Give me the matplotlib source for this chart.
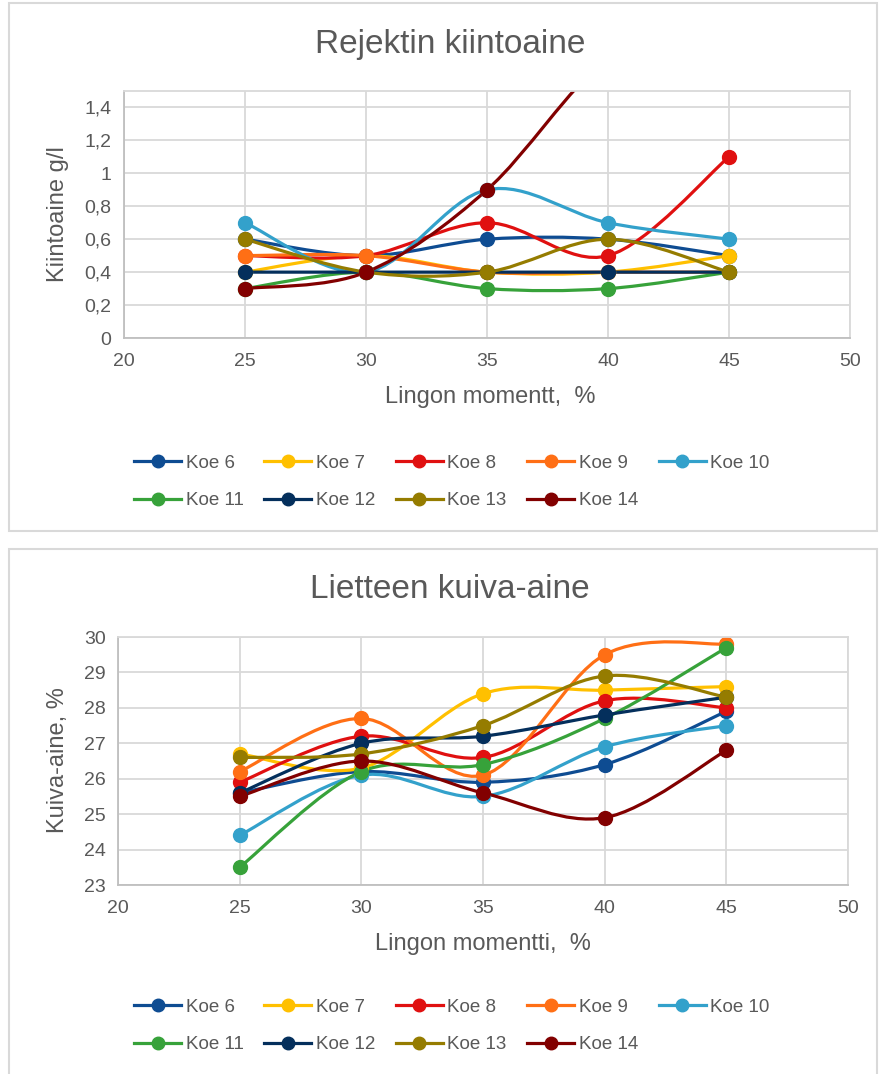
import matplotlib
matplotlib.use('Agg')
import matplotlib.pyplot as plt
from matplotlib.path import Path
from matplotlib.patches import PathPatch, Rectangle
from matplotlib.lines import Line2D
from matplotlib.ticker import FuncFormatter

plt.rcParams['font.family'] = ['Liberation Sans', 'DejaVu Sans']

# momentti, %
x = [25, 30, 35, 40, 45]
labels = ['Koe 6', 'Koe 7', 'Koe 8', 'Koe 9', 'Koe 10',
          'Koe 11', 'Koe 12', 'Koe 13', 'Koe 14']
colors = ['#0E4C92', '#FFC000', '#E01010', '#FF6F15', '#33A1CB',
          '#37A23A', '#042F5C', '#957C00', '#820000']

# Rejektin kiintoaine, g/l
kiinto = [
    [0.6, 0.5, 0.6, 0.6, 0.5],
    [0.4, 0.5, 0.4, 0.4, 0.5],
    [0.5, 0.5, 0.7, 0.5, 1.1],
    [0.5, 0.5, 0.4, 0.4, 0.4],
    [0.7, 0.4, 0.9, 0.7, 0.6],
    [0.3, 0.4, 0.3, 0.3, 0.4],
    [0.4, 0.4, 0.4, 0.4, 0.4],
    [0.6, 0.4, 0.4, 0.6, 0.4],
    [0.3, 0.4, 0.9, 1.7, 2.0],
]

# Lietteen kuiva-aine, %
kuiva = [
    [25.6, 26.2, 25.9, 26.4, 27.9],
    [26.7, 26.3, 28.4, 28.5, 28.6],
    [25.9, 27.2, 26.6, 28.2, 28.0],
    [26.2, 27.7, 26.1, 29.5, 29.8],
    [24.4, 26.1, 25.5, 26.9, 27.5],
    [23.5, 26.2, 26.4, 27.7, 29.7],
    [25.6, 27.0, 27.2, 27.8, 28.3],
    [26.6, 26.7, 27.5, 28.9, 28.3],
    [25.5, 26.5, 25.6, 24.9, 26.8],
]

TXT = '#595959'
GRID = '#D9D9D9'
W, H = 880.0, 1074.0


def smooth_path(xs, ys):
    # Excel-tyylinen pehmennetty viiva (Bezier)
    n = len(xs)
    pts = list(zip(xs, ys))
    verts = [pts[0]]
    codes = [Path.MOVETO]
    for i in range(n - 1):
        p0 = pts[i - 1] if i > 0 else pts[i]
        p1 = pts[i]
        p2 = pts[i + 1]
        p3 = pts[i + 2] if i + 2 < n else pts[i + 1]
        c1 = (p1[0] + (p2[0] - p0[0]) / 6, p1[1] + (p2[1] - p0[1]) / 6)
        c2 = (p2[0] - (p3[0] - p1[0]) / 6, p2[1] - (p3[1] - p1[1]) / 6)
        verts += [c1, c2, p2]
        codes += [Path.CURVE4] * 3
    return Path(verts, codes)


def comma(v, pos):
    s = ('%.1f' % v).rstrip('0').rstrip('.')
    return s.replace('.', ',')


def draw(ax, data, ylim, yticks):
    for vals, c in zip(data, colors):
        ax.add_patch(PathPatch(smooth_path(x, vals), fill=False, ec=c,
                               lw=2.3, capstyle='round', joinstyle='round'))
        ax.plot(x, vals, 'o', color=c, ms=10, ls='none')
    ax.set_xlim(20, 50)
    ax.set_ylim(*ylim)
    ax.set_xticks([20, 25, 30, 35, 40, 45, 50])
    ax.set_yticks(yticks)
    ax.yaxis.set_major_formatter(FuncFormatter(comma))
    ax.grid(True, color=GRID, lw=1.3)
    ax.set_axisbelow(True)
    for s in ['top', 'right']:
        ax.spines[s].set_color(GRID)
        ax.spines[s].set_linewidth(1.3)
    for s in ['left', 'bottom']:
        ax.spines[s].set_color('#BFBFBF')
        ax.spines[s].set_linewidth(1.3)
    ax.tick_params(length=0, labelsize=14, labelcolor=TXT)
    ax.tick_params(axis='x', pad=11)
    ax.tick_params(axis='y', pad=9)


fig = plt.figure(figsize=(8.8, 10.74), dpi=100)

fig.patches.append(Rectangle((9 / W, 1 - 531 / H), 868 / W, 528 / H,
                             transform=fig.transFigure, fill=False,
                             ec=GRID, lw=1.5))
fig.patches.append(Rectangle((9 / W, 1 - 1080 / H), 868 / W, 531 / H,
                             transform=fig.transFigure, fill=False,
                             ec=GRID, lw=1.5))

ax1 = fig.add_axes([124 / W, 1 - 338 / H, 726 / W, 247 / H])
draw(ax1, kiinto, (0, 1.5), [0, 0.2, 0.4, 0.6, 0.8, 1.0, 1.2, 1.4])
fig.text(450 / W, 1 - 45 / H, 'Rejektin kiintoaine', fontsize=24,
         color=TXT, ha='center', va='center')
fig.text(490 / W, 1 - 397 / H, 'Lingon momentt,  %', fontsize=17,
         color=TXT, ha='center', va='center')
fig.text(58 / W, 1 - 214 / H, 'Kiintoaine g/l', fontsize=17,
         color=TXT, ha='center', va='center', rotation=90)

ax2 = fig.add_axes([118 / W, 1 - 885 / H, 730 / W, 248 / H])
draw(ax2, kuiva, (23, 30), list(range(23, 31)))
fig.text(450 / W, 1 - 590 / H, 'Lietteen kuiva-aine', fontsize=24,
         color=TXT, ha='center', va='center')
fig.text(483 / W, 1 - 944 / H, 'Lingon momentti,  %', fontsize=17,
         color=TXT, ha='center', va='center')
fig.text(58 / W, 1 - 760 / H, 'Kuiva-aine, %', fontsize=17,
         color=TXT, ha='center', va='center', rotation=90)

handles = [Line2D([], [], color=c, lw=2.3, marker='o', ms=9) for c in colors]
order = [0, 5, 1, 6, 2, 7, 3, 8, 4]
for yc in [1 - 482 / H, 1 - 1026 / H]:
    fig.legend([handles[i] for i in order], [labels[i] for i in order],
               loc='center', bbox_to_anchor=(452 / W, yc), ncol=5,
               frameon=False, fontsize=13.5, labelcolor=TXT,
               handlelength=2.5, handletextpad=0.25, columnspacing=1.1,
               labelspacing=1.1, borderpad=0)

fig.savefig('out.png', dpi=100)
